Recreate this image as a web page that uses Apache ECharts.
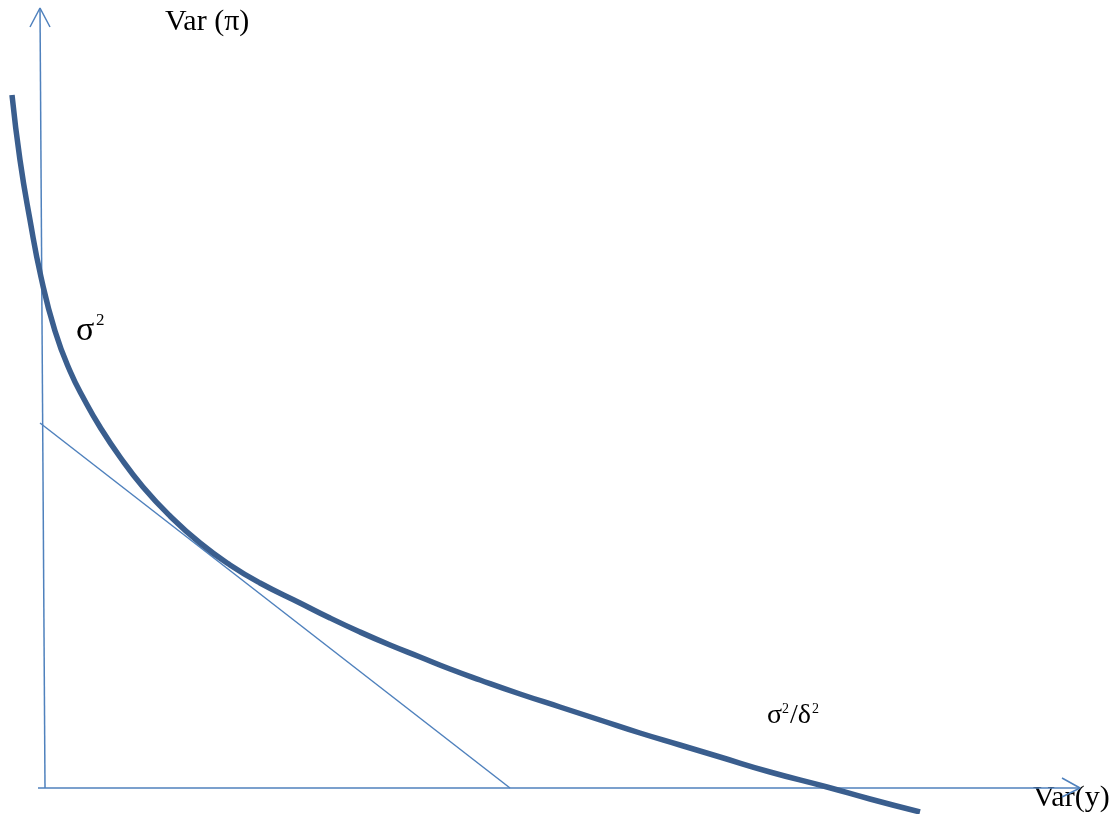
<!DOCTYPE html>
<html>
<head>
<meta charset="utf-8">
<script src="https://cdn.jsdelivr.net/npm/echarts@6/dist/echarts.min.js"></script>
<style>html,body{margin:0;padding:0;background:#fff}#c{width:1117px;height:814px}</style>
</head>
<body>
<div id="c"></div>
<script>
// Data (abstract units: Var(y) horizontal, Var(pi) vertical)
const curveX = [-0.33, -0.25, -0.15, -0.04, 0.10, 0.25, 0.40, 0.55, 0.75, 0.98, 1.25, 1.55, 1.85, 2.15, 2.55, 2.85, 3.15, 3.45, 3.75, 4.05, 4.35, 4.75, 5.15, 5.55, 5.95, 6.35, 6.75, 7.25, 7.82, 8.25, 8.75];
const curveY = [6.93, 6.28, 5.68, 5.11, 4.57, 4.17, 3.87, 3.61, 3.31, 3.01, 2.72, 2.45, 2.23, 2.05, 1.85, 1.70, 1.56, 1.43, 1.31, 1.19, 1.08, 0.94, 0.81, 0.68, 0.55, 0.43, 0.31, 0.16, 0.01, -0.11, -0.24];
const tangentX = [-0.05, 4.65];
const tangentY = [3.65, 0];
const yAxisX = [0, -0.05];
const yAxisY = [0, 7.80];
const yArrowX = [-0.15, -0.05, 0.05];
const yArrowY = [7.61, 7.80, 7.61];
const xAxisX = [-0.07, 10.35];
const xAxisY = [0, 0];
const xArrowX = [10.17, 10.35, 10.17];
const xArrowY = [0.10, 0, -0.09];
const labels = { yTitle: 'Var (π)', xTitle: 'Var(y)', sigma: 'σ', sq: '2', slashDelta: '/δ' };

const zip = (a, b) => a.map((v, i) => [v, b[i]]);
const axisColor = '#4F81BD';
const curveColor = '#3A5E8E';
const font = '"Liberation Serif", "DejaVu Serif", serif';

function thin(x, y, w) {
  return { type: 'line', data: zip(x, y), showSymbol: false, symbol: 'none',
    lineStyle: { color: axisColor, width: w || 1.5 }, silent: true, z: 2 };
}
function txt(t, x, y, size) {
  return { type: 'text', x: x, y: y, style: { text: t, font: size + 'px ' + font, fill: '#000', textVerticalAlign: 'middle' } };
}

const chart = echarts.init(document.getElementById('c'), null, { renderer: 'canvas' });
chart.setOption({
  animation: false,
  backgroundColor: '#ffffff',
  grid: { left: 0, right: 0, top: 0, bottom: 0 },
  xAxis: { type: 'value', min: -0.45, max: 10.72, show: false },
  yAxis: { type: 'value', min: -0.26, max: 7.88, show: false },
  series: [
    thin(yAxisX, yAxisY, 1.5),
    thin(yArrowX, yArrowY, 1.5),
    thin(xAxisX, xAxisY, 1.5),
    thin(xArrowX, xArrowY, 1.5),
    thin(tangentX, tangentY, 1.5),
    { type: 'line', data: zip(curveX, curveY), smooth: 0.5, showSymbol: false, symbol: 'none',
      lineStyle: { color: curveColor, width: 5.5 }, silent: true, z: 3 }
  ],
  graphic: [
    txt(labels.yTitle, 165, 22, 30),
    txt(labels.sigma, 76, 331, 34),
    txt(labels.sq, 96, 321, 17),
    txt(labels.sigma, 767, 716, 28),
    txt(labels.sq, 782, 709, 14),
    txt(labels.slashDelta, 790, 716, 28),
    txt(labels.sq, 812, 709, 14),
    txt(labels.xTitle, 1033, 798, 30)
  ]
});
</script>
</body>
</html>
